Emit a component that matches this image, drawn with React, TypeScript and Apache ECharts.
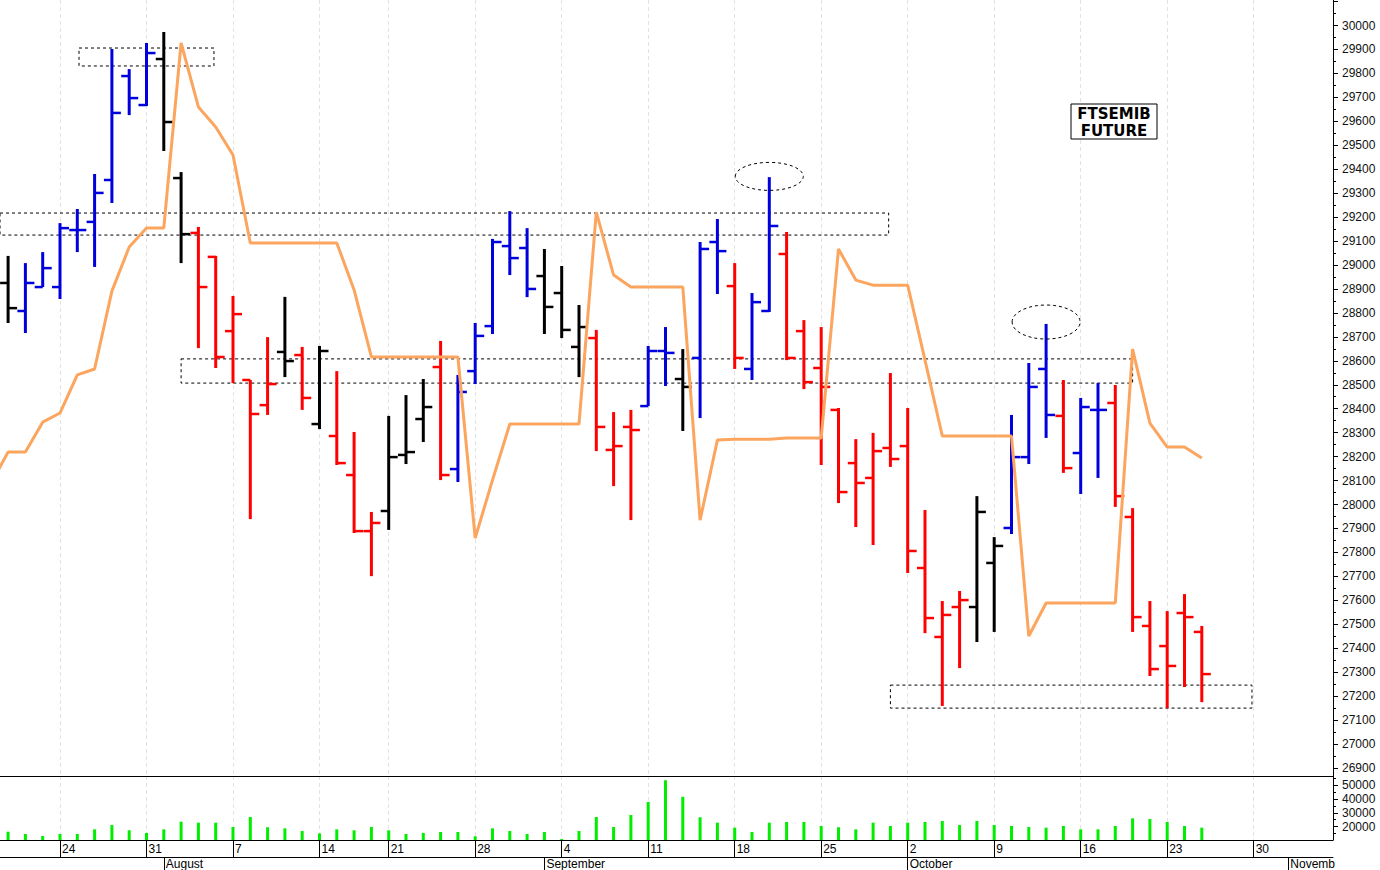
import React, { useEffect, useRef } from "react";
import * as echarts from "echarts";

// trading days (index = position on the x axis)
const dates = [
  "2023-07-18", "2023-07-19", "2023-07-20", "2023-07-21", "2023-07-24", "2023-07-25", "2023-07-26", "2023-07-27", "2023-07-28",
  "2023-07-31", "2023-08-01", "2023-08-02", "2023-08-03", "2023-08-04", "2023-08-07", "2023-08-08", "2023-08-09", "2023-08-10",
  "2023-08-11", "2023-08-14", "2023-08-16", "2023-08-17", "2023-08-18", "2023-08-21", "2023-08-22", "2023-08-23", "2023-08-24",
  "2023-08-25", "2023-08-28", "2023-08-29", "2023-08-30", "2023-08-31", "2023-09-01", "2023-09-04", "2023-09-05", "2023-09-06",
  "2023-09-07", "2023-09-08", "2023-09-11", "2023-09-12", "2023-09-13", "2023-09-14", "2023-09-15", "2023-09-18", "2023-09-19",
  "2023-09-20", "2023-09-21", "2023-09-22", "2023-09-25", "2023-09-26", "2023-09-27", "2023-09-28", "2023-09-29", "2023-10-02",
  "2023-10-03", "2023-10-04", "2023-10-05", "2023-10-06", "2023-10-09", "2023-10-10", "2023-10-11", "2023-10-12", "2023-10-13",
  "2023-10-16", "2023-10-17", "2023-10-18", "2023-10-19", "2023-10-20", "2023-10-23", "2023-10-24", "2023-10-25", "2023-10-26",
  "2023-10-27", "2023-10-30", "2023-10-31", "2023-11-01", "2023-11-02", "2023-11-03",
];

const open = [null, 28925, 28808, 28908, 28908, 29146, 29180, 29355, 29789, 29668, 29860, 29363, 29134, 29034, 28724, 28520, 28415, 28637, 28624, 28336, 28286, 28123, 27889, 27973, 28207, 28357, 28574, 28148, 28557, 28745, 29079, 29071, 28954, 28883, 28658, 28695, 28228, 28324, 28411, 28641, 28524, 28612, 29096, 28912, 28566, 28808, 29046, 28724, 28570, 28395, 28173, 28111, 28236, 28244, 27735, 27447, 27572, 27572, 27756, 27902, 28198, 28566, 28370, 28215, 28395, 28424, 27948, 27493, 27409, 27547, 27468];
const high = [null, 29038, 29008, 29054, 29175, 29234, 29380, 29902, 29818, 29927, 29973, 29388, 29159, 29038, 28871, 28520, 28699, 28867, 28658, 28662, 28557, 28303, 27969, 28370, 28457, 28524, 28683, 28541, 28758, 29109, 29225, 29154, 29067, 28996, 28833, 28729, 28386, 28395, 28662, 28741, 28649, 29096, 29192, 29008, 28883, 29367, 29138, 28770, 28741, 28403, 28273, 28299, 28549, 28403, 27977, 27597, 27639, 28035, 27864, 28374, 28591, 28754, 28520, 28445, 28507, 28499, 27985, 27597, 27555, 27626, 27493];
const low = [null, 28758, 28716, 28908, 28858, 29054, 28992, 29259, 29626, 29664, 29476, 29008, 28653, 28570, 28507, 27939, 28374, 28532, 28395, 28315, 28165, 27881, 27701, 27894, 28169, 28261, 28102, 28094, 28503, 28712, 28958, 28866, 28712, 28695, 28532, 28223, 28077, 27935, 28411, 28495, 28307, 28361, 28879, 28566, 28520, 28804, 28603, 28482, 28165, 28006, 27906, 27831, 28157, 27714, 27463, 27159, 27317, 27426, 27468, 27877, 28169, 28278, 28132, 28044, 28111, 27990, 27468, 27284, 27150, 27238, 27175];
const close = [null, 28820, 28925, 28987, 29154, 29146, 29301, 29635, 29697, 29885, 29597, 29129, 28908, 28616, 28795, 28378, 28503, 28599, 28445, 28641, 28173, 27889, 27923, 28198, 28219, 28407, 28123, 28470, 28704, 29096, 29029, 28900, 28825, 28729, 28741, 28324, 28244, 28311, 28641, 28633, 28491, 29067, 29058, 28612, 28845, 29163, 28612, 28511, 28491, 28052, 28090, 28223, 28190, 27806, 27526, 27539, 27601, 27969, 27827, 28198, 28491, 28374, 28152, 28407, 28395, 28035, 27530, 27313, 27326, 27530, 27292];
// bar colour code: B blue, R red, K black
const barState = [null,
  "K", "B", "B", "B", "B", "B", "B", "B", "B", "K",
  "K", "R", "R", "R", "R", "R", "K", "R", "K", "R",
  "R", "R", "K", "K", "K", "R", "B", "B", "B", "B",
  "B", "K", "K", "K", "R", "R", "R", "B", "B", "K",
  "B", "B", "R", "B", "B", "R", "R", "R", "R", "R",
  "R", "R", "R", "R", "R", "R", "K", "K", "B", "B",
  "B", "R", "B", "B", "R", "R", "R", "R", "R", "R"];
const volume = [null, 16400, 14750, 13300, 14750, 14750, 18100, 21200, 17400, 15500, 18100, 23600, 22900, 22900, 19800, 27000, 19600, 18800, 16900, 15200, 18100, 17400, 19800, 17400, 14750, 15500, 16200, 16200, 13100, 18800, 16900, 14750, 16200, 11150, 16900, 27000, 19800, 28400, 37800, 53400, 41500, 26800, 22900, 19300, 16200, 22900, 23400, 23400, 20500, 19600, 18100, 22900, 20500, 22900, 23400, 24100, 21200, 24100, 21200, 20500, 19800, 19300, 20500, 18100, 18100, 20500, 26000, 25500, 23400, 20500, 19300];
const trendLine = [28086, 28219, 28219, 28344, 28382, 28541, 28566, 28891, 29075, 29155, 29155, 29927, 29660, 29576, 29459, 29092, 29092, 29092, 29092, 29092, 29092, 28896, 28616, 28616, 28616, 28616, 28616, 28616, 27860, 28102, 28336, 28336, 28336, 28336, 28336, 29221, 28958, 28908, 28908, 28908, 28908, 27935, 28269, 28273, 28273, 28273, 28278, 28278, 28278, 29067, 28937, 28916, 28916, 28916, 28603, 28286, 28286, 28286, 28286, 28286, 27451, 27589, 27589, 27589, 27589, 27589, 28649, 28340, 28240, 28240, 28194];

// axis tick labels
const priceLabels = [26900, 27000, 27100, 27200, 27300, 27400, 27500, 27600, 27700, 27800, 27900, 28000, 28100, 28200, 28300, 28400, 28500, 28600, 28700, 28800, 28900, 29000, 29100, 29200, 29300, 29400, 29500, 29600, 29700, 29800, 29900, 30000];
const priceMinorTicks = [26900, 26950, 27000, 27050, 27100, 27150, 27200, 27250, 27300, 27350, 27400, 27450, 27500, 27550, 27600, 27650, 27700, 27750, 27800, 27850, 27900, 27950, 28000, 28050, 28100, 28150, 28200, 28250, 28300, 28350, 28400, 28450, 28500, 28550, 28600, 28650, 28700, 28750, 28800, 28850, 28900, 28950, 29000, 29050, 29100, 29150, 29200, 29250, 29300, 29350, 29400, 29450, 29500, 29550, 29600, 29650, 29700, 29750, 29800, 29850, 29900, 29950, 30000, 30050, 30100];
const volumeLabels = [20000, 30000, 40000, 50000];
const volumeMinorTicks = [15000, 25000, 35000, 45000, 55000];
const monthNames = ["January", "February", "March", "April", "May", "June", "July", "August", "September", "October", "Novemb", "December"];

// annotations (data coordinates)
const zoneX0 = [5.1, 0.3, 11.0, 52.0];
const zoneX1 = [12.9, 51.9, 66.0, 72.9];
const zoneTop = [29906, 29217, 28608, 27246];
const zoneBottom = [29831, 29125, 28507, 27150];
const ellipseX = [45, 61];
const ellipseY = [29370, 28762];
const ellipseRx = [34, 34];
const ellipseRy = [14, 17];

const X_MIN = 0.532;
const X_MAX = 77.584;
const FONT = '"Liberation Sans", Arial, sans-serif';
const COLORS: Record<string, string> = { B: "#0000dd", R: "#ff0000", K: "#000000" };

const dayOf = (s: string) => new Date(s + "T00:00:00Z");

export default function App() {
  const ref = useRef<HTMLDivElement>(null);
  useEffect(() => {
    const chart = echarts.init(ref.current!, null, { renderer: "svg" });

    const weekStarts: number[] = [];
    const monthStarts: number[] = [];
    for (let i = 1; i < dates.length; i++) {
      const d = dayOf(dates[i]);
      const p = dayOf(dates[i - 1]);
      if (d.getUTCDay() < p.getUTCDay()) weekStarts.push(i);
      if (d.getUTCMonth() !== p.getUTCMonth()) monthStarts.push(i);
    }

    const bars: number[][] = [];
    for (let i = 0; i < open.length; i++) {
      if (open[i] == null) continue;
      bars.push([i, open[i] as number, high[i] as number, low[i] as number, close[i] as number]);
    }
    const volData: number[][] = [];
    volume.forEach((v, i) => { if (v != null) volData.push([i, v]); });
    const lineData = trendLine.map((v, i) => [i, v]);

    const gridLine = { show: true, lineStyle: { color: "#e2e2e2", type: [4, 3], width: 1 } };
    const blackLine = { show: true, onZero: false, lineStyle: { color: "#000", width: 1 } };
    const labelStyle = { fontFamily: FONT, fontSize: 12, color: "#000" };
    const plain = (v: number) => String(Math.round(v));

    const option: any = {
      animation: false,
      backgroundColor: "#fff",
      grid: [
        { left: 0, top: 0, width: 1333, height: 776 },
        { left: 0, top: 776, width: 1333, height: 64 },
      ],
      xAxis: [
        {
          gridIndex: 0, type: "value", min: X_MIN, max: X_MAX, position: "bottom",
          axisLine: blackLine,
          axisTick: { show: false, customValues: weekStarts },
          axisLabel: { show: false },
          splitLine: gridLine,
        },
        {
          gridIndex: 1, type: "value", min: X_MIN, max: X_MAX, position: "bottom",
          axisLine: blackLine,
          axisTick: { show: true, customValues: weekStarts, length: 17, lineStyle: { color: "#000" } },
          axisLabel: {
            customValues: weekStarts, ...labelStyle, align: "left", margin: 3, padding: [0, 0, 0, 2],
            formatter: (v: number) => String(dayOf(dates[Math.round(v)]).getUTCDate()),
          },
          splitLine: gridLine,
        },
        {
          gridIndex: 1, type: "value", min: X_MIN, max: X_MAX, position: "bottom", offset: 17,
          axisLine: blackLine,
          axisTick: { show: true, customValues: monthStarts, length: 13, lineStyle: { color: "#000" } },
          axisLabel: {
            customValues: monthStarts, ...labelStyle, align: "left", margin: 1, padding: [0, 0, 0, 2],
            formatter: (v: number) => monthNames[dayOf(dates[Math.round(v)]).getUTCMonth()],
          },
          splitLine: { show: false },
        },
      ],
      yAxis: [
        {
          gridIndex: 0, type: "value", position: "right", min: 26866.5, max: 30106.5,
          axisLine: blackLine,
          axisTick: { show: true, customValues: priceMinorTicks.filter((v) => v % 100 === 0), length: 5, lineStyle: { color: "#000" } },
          axisLabel: { customValues: priceLabels, ...labelStyle, color: "#111", margin: 9, formatter: plain },
          splitLine: { show: false },
        },
        {
          gridIndex: 0, type: "value", position: "right", min: 26866.5, max: 30106.5,
          axisLine: { show: false },
          axisTick: { show: true, customValues: priceMinorTicks, length: 3, lineStyle: { color: "#000" } },
          axisLabel: { show: false },
          splitLine: { show: false },
        },
        {
          gridIndex: 1, type: "value", position: "right", min: 10430, max: 56470,
          axisLine: blackLine,
          axisTick: { show: true, customValues: volumeLabels, length: 5, lineStyle: { color: "#000" } },
          axisLabel: { customValues: volumeLabels, ...labelStyle, color: "#111", margin: 9, formatter: plain },
          splitLine: { show: false },
        },
        {
          gridIndex: 1, type: "value", position: "right", min: 10430, max: 56470,
          axisLine: { show: false },
          axisTick: { show: true, customValues: volumeMinorTicks, length: 3, lineStyle: { color: "#000" } },
          axisLabel: { show: false },
          splitLine: { show: false },
        },
      ],
      series: [
        {
          type: "custom",
          xAxisIndex: 0,
          yAxisIndex: 0,
          data: bars,
          encode: { x: 0, y: [1, 2, 3, 4] },
          clip: true,
          z: 2,
          renderItem: (params: any, api: any) => {
            const i = api.value(0);
            const col = COLORS[barState[i] as string] || "#000";
            const pH = api.coord([i, api.value(2)]);
            const pL = api.coord([i, api.value(3)]);
            const pO = api.coord([i, api.value(1)]);
            const pC = api.coord([i, api.value(4)]);
            return {
              type: "group",
              children: [
                { type: "line", shape: { x1: pH[0], y1: pH[1], x2: pL[0], y2: pL[1] }, style: { stroke: col, lineWidth: 3 } },
                { type: "line", shape: { x1: pO[0] - 8, y1: pO[1], x2: pO[0], y2: pO[1] }, style: { stroke: col, lineWidth: 2.5 } },
                { type: "line", shape: { x1: pC[0], y1: pC[1], x2: pC[0] + 9, y2: pC[1] }, style: { stroke: col, lineWidth: 2.5 } },
              ],
            };
          },
        },
        {
          type: "line",
          xAxisIndex: 0,
          yAxisIndex: 0,
          data: lineData,
          showSymbol: false,
          symbol: "none",
          z: 3,
          lineStyle: { color: "#fba55e", width: 3 },
          markArea: {
            silent: true,
            label: { show: false },
            itemStyle: { color: "rgba(0,0,0,0)", borderColor: "#000", borderWidth: 1, borderType: [3, 3], opacity: 1 },
            data: zoneX0.map((x0, k) => [
              { coord: [x0, zoneTop[k]] },
              { coord: [zoneX1[k], zoneBottom[k]] },
            ]),
          },
        },
        {
          type: "bar",
          xAxisIndex: 1,
          yAxisIndex: 2,
          data: volData,
          barWidth: 3,
          itemStyle: { color: "#00ee00" },
        },
      ],
    };
    chart.setOption(option);

    const ellipses = ellipseX.map((x, k) => {
      const p = chart.convertToPixel({ xAxisIndex: 0, yAxisIndex: 0 }, [x, ellipseY[k]]) as number[];
      return {
        type: "ellipse",
        silent: true,
        z: 20,
        shape: { cx: p[0], cy: p[1], rx: ellipseRx[k], ry: ellipseRy[k] },
        style: { fill: "none", stroke: "#000", lineWidth: 1, lineDash: [3, 3] },
      };
    });
    chart.setOption({
      graphic: [
        ...ellipses,
        {
          type: "group",
          x: 1071,
          y: 104,
          z: 20,
          children: [
            { type: "rect", shape: { x: 0, y: 0, width: 86, height: 35 }, style: { fill: "#fff", stroke: "#000", lineWidth: 1 } },
            {
              type: "text",
              x: 43,
              y: 18,
              style: {
                text: "FTSEMIB\nFUTURE",
                fill: "#000",
                font: 'bold 15px "DejaVu Sans", Verdana, sans-serif',
                align: "center",
                verticalAlign: "middle",
                textAlign: "center",
                textVerticalAlign: "middle",
                lineHeight: 17,
              },
            },
          ],
        },
      ],
    });

    return () => chart.dispose();
  }, []);

  return (
    <div
      ref={ref}
      style={{ position: "fixed", left: 0, top: 0, width: 1380, height: 870, background: "#fff" }}
    />
  );
}
